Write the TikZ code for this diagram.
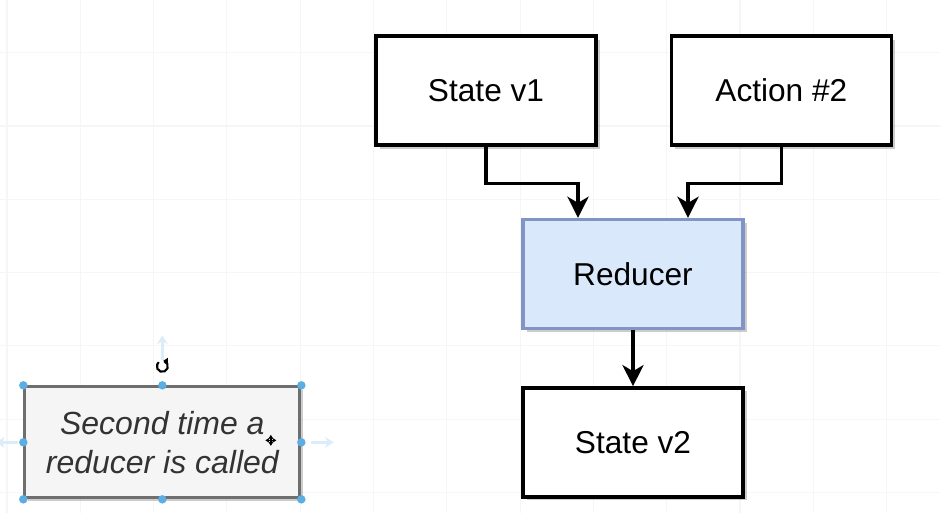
\documentclass[tikz,border=0pt]{standalone}
\usepackage{fontspec}
\setmainfont{Liberation Sans}
\usetikzlibrary{positioning,arrows.meta,shadows}

\definecolor{redfill}{HTML}{DAE8FC}
\definecolor{redline}{HTML}{8293C6}
\definecolor{notefill}{HTML}{F5F5F5}
\definecolor{noteline}{HTML}{6E6E6E}
\definecolor{notetext}{HTML}{333333}
\definecolor{handleblue}{HTML}{5AAEE2}

\tikzset{
  statebox/.style={draw, line width=1.9pt, fill=white, minimum width=4.4cm, minimum height=2.18cm,
    font=\fontsize{18}{22}\selectfont,
    drop shadow={shadow xshift=2pt, shadow yshift=-2pt, opacity=0.2, fill=black}},
  redbox/.style={statebox, fill=redfill, draw=redline},
  notebox/.style={statebox, fill=notefill, draw=noteline, line width=1.7pt, text=notetext,
    minimum width=5.5cm, minimum height=2.22cm, align=center, font=\fontsize{18.2}{22}\selectfont\itshape},
  arr/.style={-{Stealth[length=12pt, width=12pt, inset=3.5pt]}, line width=1.9pt},
  gridline/.style={gray!7, line width=0.6pt},
  hint/.style={-{Stealth[length=5pt, width=6pt]}, handleblue!22, line width=1.6pt}
}

\begin{document}
\begin{tikzpicture}
    \useasboundingbox (0,0) rectangle (18.8,-10.26);
    \fill[white] (0,0) rectangle (18.8,-10.26);
    % background grid
    \foreach \x in {0.14,1.606,...,18.8} \draw[gridline] (\x,0) -- (\x,-10.26);
    \foreach \y in {-1.054,-2.52,...,-10.26} \draw[gridline] (0,\y) -- (18.8,\y);

    \node (sv1) [statebox] at (9.72,-1.81) {State v1};
    \node (act2) [statebox, right=1.44cm of sv1] {Action \#2};
    \node (red) [redbox] at (12.66,-5.48) {Reducer};
    \node (sv2) [statebox, below=1.12cm of red] {State v2};
    \node (note) [notebox, left=4.4cm of sv2] {Second time a\\reducer is called};

    \draw[arr] (sv1.south) -- ++(0,-0.74) -| ([xshift=-1.1cm]red.north);
    \draw[arr] (act2.south) -- ++(0,-0.74) -| ([xshift=1.1cm]red.north);
    \draw[arr] (red) -- (sv2);

    % selection handles of the note
    \draw[hint] ([xshift=-0.1cm]note.west) -- ++(-0.45,0);
    \draw[hint] ([xshift=0.2cm]note.east) -- ++(0.45,0);
    \draw[hint] ([yshift=0.5cm]note.north) -- ++(0,0.5);
    \foreach \a in {north west,north,north east,west,east,south west,south,south east}
        \fill[handleblue] (note.\a) circle (0.085);
    \coordinate (rot) at ([yshift=0.38cm]note.north);
    \draw[line width=1.2pt] (rot) ++(70:0.11) arc[start angle=70, end angle=-230, radius=0.11];
    \fill (rot) ++(0.02,0.11) -- ++(0.09,0.06) -- ++(0,-0.12) -- cycle;
    \draw[line width=0.8pt, {Stealth[length=2.5pt, width=3pt]}-{Stealth[length=2.5pt, width=3pt]}]
        ([xshift=2.06cm,yshift=0.04cm]note.center) -- ++(0.22,0);
    \draw[line width=0.8pt, {Stealth[length=2.5pt, width=3pt]}-{Stealth[length=2.5pt, width=3pt]}]
        ([xshift=2.17cm,yshift=0.15cm]note.center) -- ++(0,-0.22);
\end{tikzpicture}
\end{document}
